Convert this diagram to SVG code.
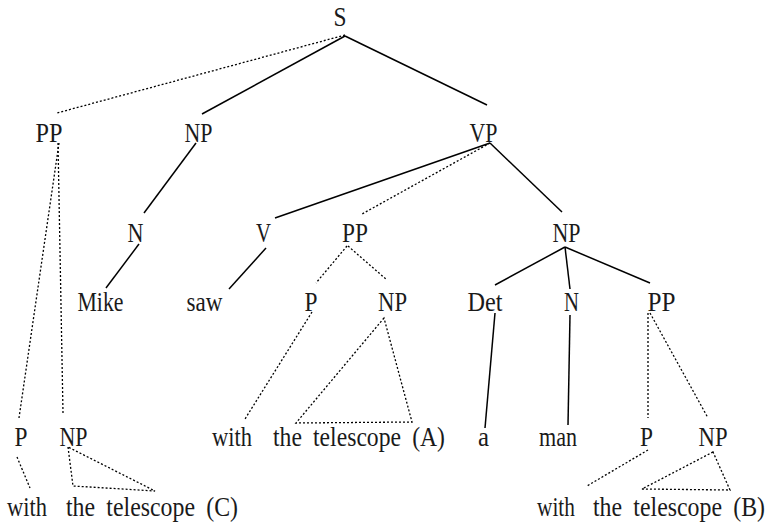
<svg xmlns="http://www.w3.org/2000/svg" width="770" height="525" viewBox="0 0 770 525">
  <style>
    .solid { stroke: #000; stroke-width: 1.5; fill: none; }
    .dot { stroke: #000; stroke-width: 1.3; stroke-dasharray: 2 2; fill: none; }
  </style>
  <rect width="770" height="525" fill="#fff"/>

  <!-- branches of the three parses -->
  <g id="connectors">
    <line class="solid" x1="345" y1="36" x2="202" y2="114"/>
    <line class="solid" x1="345" y1="36" x2="487" y2="105"/>
    <line class="dot" x1="345" y1="35" x2="57" y2="113"/>

    <line class="dot" x1="59" y1="143" x2="19" y2="418"/>
    <line class="dot" x1="58" y1="143" x2="63" y2="413"/>
    <line class="dot" x1="17" y1="457" x2="30" y2="488"/>
    <polygon class="dot" points="68,447 73,486 155,491"/>

    <line class="solid" x1="196" y1="143" x2="144" y2="213"/>
    <line class="solid" x1="139" y1="244" x2="106" y2="288"/>

    <line class="solid" x1="490" y1="143" x2="275" y2="218"/>
    <line class="dot" x1="490" y1="143" x2="362" y2="214"/>
    <line class="solid" x1="490" y1="143" x2="562" y2="212"/>

    <line class="solid" x1="266" y1="248" x2="229" y2="289"/>

    <line class="dot" x1="347" y1="246" x2="316" y2="283"/>
    <line class="dot" x1="348" y1="246" x2="387" y2="280"/>
    <line class="dot" x1="312" y1="312" x2="245" y2="419"/>
    <polygon class="dot" points="384,318 296,423 412,422"/>

    <line class="solid" x1="565" y1="247" x2="495" y2="285"/>
    <line class="solid" x1="565" y1="247" x2="570" y2="289"/>
    <line class="solid" x1="565" y1="247" x2="650" y2="283"/>

    <line class="solid" x1="495" y1="313" x2="485" y2="428"/>
    <line class="solid" x1="570" y1="315" x2="568" y2="425"/>

    <line class="dot" x1="648" y1="313" x2="648" y2="418"/>
    <line class="dot" x1="650" y1="313" x2="708" y2="418"/>
    <line class="dot" x1="648" y1="450" x2="587" y2="486"/>
    <polygon class="dot" points="713,452 642,489 730,490"/>
  </g>

  <!-- node labels: tall, narrow serif set by textLength -->
  <g id="n-S"><text x="340" y="26" font-family="Liberation Serif" font-size="27" fill="#1a1a1a" text-anchor="middle" textLength="13" lengthAdjust="spacingAndGlyphs">S</text></g>

  <g id="n-PP-sent"><text x="49" y="142" font-family="Liberation Serif" font-size="27" fill="#1a1a1a" text-anchor="middle" textLength="27" lengthAdjust="spacingAndGlyphs">PP</text></g>
  <g id="n-NP-subj"><text x="198.5" y="142" font-family="Liberation Serif" font-size="27" fill="#1a1a1a" text-anchor="middle" textLength="28" lengthAdjust="spacingAndGlyphs">NP</text></g>
  <g id="n-VP"><text x="483.5" y="142" font-family="Liberation Serif" font-size="27" fill="#1a1a1a" text-anchor="middle" textLength="28" lengthAdjust="spacingAndGlyphs">VP</text></g>

  <g id="n-N-subj"><text x="135.5" y="242" font-family="Liberation Serif" font-size="27" fill="#1a1a1a" text-anchor="middle" textLength="16" lengthAdjust="spacingAndGlyphs">N</text></g>
  <g id="n-V"><text x="263.5" y="242" font-family="Liberation Serif" font-size="27" fill="#1a1a1a" text-anchor="middle" textLength="15" lengthAdjust="spacingAndGlyphs">V</text></g>
  <g id="n-PP-verb"><text x="355" y="242" font-family="Liberation Serif" font-size="27" fill="#1a1a1a" text-anchor="middle" textLength="26" lengthAdjust="spacingAndGlyphs">PP</text></g>
  <g id="n-NP-obj"><text x="566.5" y="242" font-family="Liberation Serif" font-size="27" fill="#1a1a1a" text-anchor="middle" textLength="28" lengthAdjust="spacingAndGlyphs">NP</text></g>

  <g id="n-Mike"><text x="100.5" y="311" font-family="Liberation Serif" font-size="27" fill="#1a1a1a" text-anchor="middle" textLength="46" lengthAdjust="spacingAndGlyphs">Mike</text></g>
  <g id="n-saw"><text x="204.5" y="311" font-family="Liberation Serif" font-size="27" fill="#1a1a1a" text-anchor="middle" textLength="36" lengthAdjust="spacingAndGlyphs">saw</text></g>
  <g id="n-P-verb"><text x="311" y="311" font-family="Liberation Serif" font-size="27" fill="#1a1a1a" text-anchor="middle" textLength="13" lengthAdjust="spacingAndGlyphs">P</text></g>
  <g id="n-NP-verb"><text x="392.5" y="311" font-family="Liberation Serif" font-size="27" fill="#1a1a1a" text-anchor="middle" textLength="29" lengthAdjust="spacingAndGlyphs">NP</text></g>
  <g id="n-Det"><text x="485" y="311" font-family="Liberation Serif" font-size="27" fill="#1a1a1a" text-anchor="middle" textLength="35" lengthAdjust="spacingAndGlyphs">Det</text></g>
  <g id="n-N-obj"><text x="571.5" y="311" font-family="Liberation Serif" font-size="27" fill="#1a1a1a" text-anchor="middle" textLength="15" lengthAdjust="spacingAndGlyphs">N</text></g>
  <g id="n-PP-noun"><text x="661.5" y="311" font-family="Liberation Serif" font-size="27" fill="#1a1a1a" text-anchor="middle" textLength="28" lengthAdjust="spacingAndGlyphs">PP</text></g>

  <g id="n-P-sent"><text x="21" y="446" font-family="Liberation Serif" font-size="27" fill="#1a1a1a" text-anchor="middle" textLength="13" lengthAdjust="spacingAndGlyphs">P</text></g>
  <g id="n-NP-sent"><text x="73.5" y="446" font-family="Liberation Serif" font-size="27" fill="#1a1a1a" text-anchor="middle" textLength="28" lengthAdjust="spacingAndGlyphs">NP</text></g>
  <g id="n-with-A"><text x="232" y="446" font-family="Liberation Serif" font-size="27" fill="#1a1a1a" text-anchor="middle" textLength="40" lengthAdjust="spacingAndGlyphs">with</text></g>
  <g id="n-telescope-A"><text x="359" y="446" font-family="Liberation Serif" font-size="27" fill="#1a1a1a" text-anchor="middle" word-spacing="6" textLength="172" lengthAdjust="spacingAndGlyphs">the telescope (A)</text></g>
  <g id="n-a"><text x="483.5" y="446" font-family="Liberation Serif" font-size="27" fill="#1a1a1a" text-anchor="middle" textLength="11" lengthAdjust="spacingAndGlyphs">a</text></g>
  <g id="n-man"><text x="558" y="446" font-family="Liberation Serif" font-size="27" fill="#1a1a1a" text-anchor="middle" textLength="38" lengthAdjust="spacingAndGlyphs">man</text></g>
  <g id="n-P-noun"><text x="646.5" y="446" font-family="Liberation Serif" font-size="27" fill="#1a1a1a" text-anchor="middle" textLength="13" lengthAdjust="spacingAndGlyphs">P</text></g>
  <g id="n-NP-noun"><text x="713" y="446" font-family="Liberation Serif" font-size="27" fill="#1a1a1a" text-anchor="middle" textLength="29" lengthAdjust="spacingAndGlyphs">NP</text></g>

  <g id="n-with-C"><text x="27" y="516" font-family="Liberation Serif" font-size="27" fill="#1a1a1a" text-anchor="middle" textLength="40" lengthAdjust="spacingAndGlyphs">with</text></g>
  <g id="n-telescope-C"><text x="152" y="516" font-family="Liberation Serif" font-size="27" fill="#1a1a1a" text-anchor="middle" word-spacing="6" textLength="172" lengthAdjust="spacingAndGlyphs">the telescope (C)</text></g>
  <g id="n-with-B"><text x="556" y="516" font-family="Liberation Serif" font-size="27" fill="#1a1a1a" text-anchor="middle" textLength="38" lengthAdjust="spacingAndGlyphs">with</text></g>
  <g id="n-telescope-B"><text x="679" y="516" font-family="Liberation Serif" font-size="27" fill="#1a1a1a" text-anchor="middle" word-spacing="6" textLength="172" lengthAdjust="spacingAndGlyphs">the telescope (B)</text></g>
</svg>
